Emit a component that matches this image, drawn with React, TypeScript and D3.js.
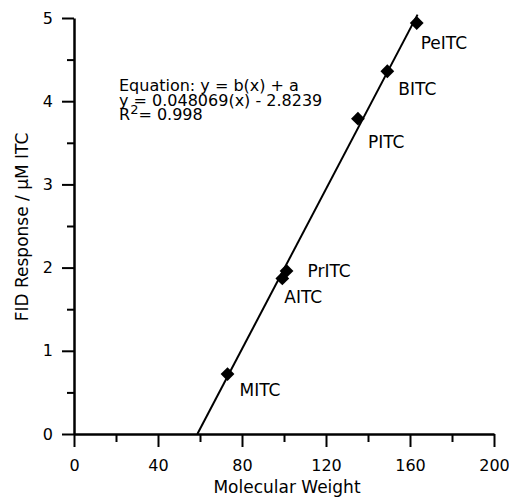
import { useEffect, useRef } from 'react';
import * as d3 from 'd3';

const W = 509, H = 498;
const X0 = 74, X1 = 494, Y0 = 434, Y1 = 18;

const compounds = ['MITC', 'AITC', 'PrITC', 'PITC', 'BITC', 'PeITC'];
const molWeights = [73.1, 99.2, 101.2, 135.2, 149.2, 163.2];
const responses = [0.72, 1.87, 1.96, 3.79, 4.36, 4.94];
// label offsets from the point, px
const labelDx = [12, 2, 21, 10, 11, 4];
const labelDy = [22, 25, 6, 29, 24, 26];

const slope = 0.048069, intercept = -2.8239;
const fitEnd = 163.6;
const xTicks = [0, 40, 80, 120, 160, 200];
const xMinor = [20, 60, 100, 140, 180];
const yTicks = [0, 1, 2, 3, 4, 5];
const yMinor = [0.5, 1.5, 2.5, 3.5, 4.5];
const eqLines = ['Equation: y = b(x) + a', 'y = 0.048069(x) - 2.8239'];

const FONT = 'DejaVu Sans, sans-serif';

export default function App() {
  const svgRef = useRef<SVGSVGElement>(null);

  useEffect(() => {
    const svg = d3.select(svgRef.current);
    svg.selectAll('*').remove();

    const x = d3.scaleLinear().domain([0, 200]).range([X0, X1]);
    const y = d3.scaleLinear().domain([0, 5]).range([Y0, Y1]);

    const g = svg.append('g').attr('font-family', FONT);

    // x axis
    const xa = g.append('g').attr('transform', `translate(0,${Y0})`);
    xa.call(d3.axisBottom(x).tickValues(xTicks).tickSize(13).tickSizeOuter(0).tickPadding(13).tickFormat(d3.format('d')));
    xa.append('g').call(d3.axisBottom(x).tickValues(xMinor).tickSize(8).tickFormat(() => ''))
      .call((s) => s.select('.domain').remove());

    // y axis
    const ya = g.append('g').attr('transform', `translate(${X0},0)`);
    ya.call(d3.axisLeft(y).tickValues(yTicks).tickSize(12).tickSizeOuter(0).tickPadding(9).tickFormat(d3.format('d')));
    ya.append('g').call(d3.axisLeft(y).tickValues(yMinor).tickSize(7).tickFormat(() => ''))
      .call((s) => s.select('.domain').remove());

    g.selectAll('.domain').attr('stroke', '#000').attr('stroke-width', 2.5);
    g.selectAll('.tick line').attr('stroke', '#000').attr('stroke-width', 2);
    g.selectAll('.tick text').attr('font-size', 16).attr('font-family', FONT).attr('fill', '#000');

    // fitted line
    const x0 = -intercept / slope;
    g.append('line')
      .attr('x1', x(x0)).attr('y1', y(0))
      .attr('x2', x(fitEnd)).attr('y2', y(slope * fitEnd + intercept))
      .attr('stroke', '#000').attr('stroke-width', 2);

    // points
    const diamond = d3.symbol().type(d3.symbolSquare).size(95);
    compounds.forEach((c, i) => {
      const px = x(molWeights[i]), py = y(responses[i]);
      g.append('path')
        .attr('d', diamond() as string)
        .attr('transform', `translate(${px},${py}) rotate(45)`)
        .attr('fill', '#000');
      g.append('text')
        .attr('x', px + labelDx[i]).attr('y', py + labelDy[i])
        .attr('font-size', 17).attr('fill', '#000')
        .text(c);
    });

    // equation
    eqLines.forEach((t, i) => {
      g.append('text').attr('x', 119).attr('y', 91 + i * 14.5)
        .attr('font-size', 16).attr('fill', '#000').text(t);
    });
    const r2 = g.append('text').attr('x', 119).attr('y', 120).attr('font-size', 16).attr('fill', '#000');
    r2.append('tspan').text('R');
    r2.append('tspan').attr('dy', -6).attr('font-size', 13).text('2');
    r2.append('tspan').attr('dy', 6).text('= 0.998');

    // axis titles
    g.append('text')
      .attr('x', 287).attr('y', 493)
      .attr('text-anchor', 'middle').attr('font-size', 17).attr('fill', '#000')
      .text('Molecular Weight');
    g.append('text')
      .attr('transform', `translate(28,227) rotate(-90)`)
      .attr('text-anchor', 'middle').attr('font-size', 17).attr('fill', '#000')
      .text('FID Response / μM ITC');
  }, []);

  return (
    <svg
      ref={svgRef}
      width={W}
      height={H}
      style={{ position: 'absolute', left: 0, top: 0, background: '#fff' }}
    />
  );
}
